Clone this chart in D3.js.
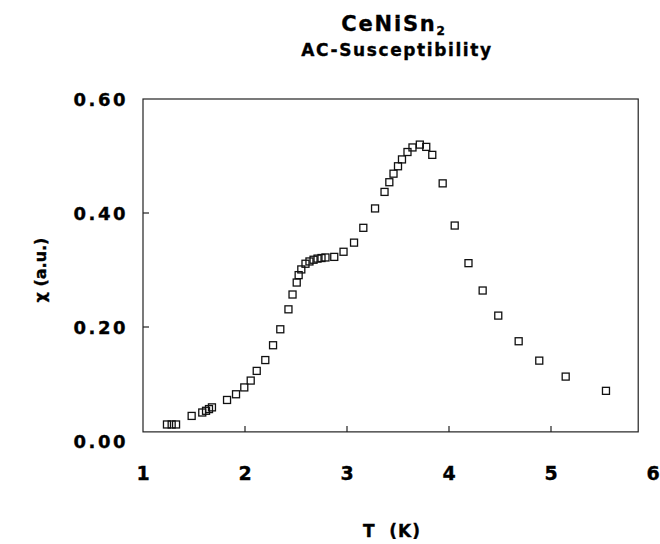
<!DOCTYPE html>
<html>
<head>
<meta charset="utf-8">
<script src="https://cdn.jsdelivr.net/npm/d3@7/dist/d3.min.js"></script>
<style>
  html, body { margin: 0; padding: 0; background: #fff; }
  svg { display: block; }
  text { font-family: "DejaVu Sans", Arial, sans-serif; font-weight: bold; fill: #000; stroke: #000; stroke-width: 0.35px; }
</style>
</head>
<body>
<svg id="chart" width="660" height="544"></svg>
<script>
// Temperature (K)
const temperature = [
  1.235, 1.281, 1.324, 1.477, 1.581, 1.618, 1.647, 1.676, 1.824, 1.912,
  1.993, 2.056, 2.115, 2.199, 2.275, 2.346, 2.426, 2.466, 2.507, 2.526,
  2.552, 2.593, 2.632, 2.672, 2.711, 2.750, 2.789, 2.875, 2.966, 3.069,
  3.160, 3.275, 3.368, 3.415, 3.456, 3.500, 3.539, 3.593, 3.642, 3.714,
  3.777, 3.836, 3.938, 4.056, 4.191, 4.330, 4.483, 4.683, 4.885, 5.144,
  5.539
];
// AC susceptibility (a.u.)
const chi = [
  0.029, 0.029, 0.029, 0.044, 0.050, 0.053, 0.056, 0.059, 0.072, 0.082,
  0.094, 0.106, 0.123, 0.142, 0.168, 0.196, 0.231, 0.257, 0.278, 0.291,
  0.301, 0.311, 0.315, 0.318, 0.320, 0.321, 0.322, 0.323, 0.332, 0.348,
  0.374, 0.408, 0.437, 0.454, 0.469, 0.482, 0.494, 0.507, 0.515, 0.520,
  0.516, 0.502, 0.452, 0.378, 0.312, 0.264, 0.220, 0.175, 0.141, 0.113,
  0.088
];
const xTicks = [1, 2, 3, 4, 5, 6];
const yTicks = [0.00, 0.20, 0.40, 0.60];
const titleMain = "CeNiSn";
const titleSub = "2";
const subtitle = "AC-Susceptibility";
const xLabel = "T  (K)";
const yLabel = "χ (a.u.)";

const svg = d3.select("#chart");
const x = d3.scaleLinear().domain([1, 6]).range([143, 653]);
const y = d3.scaleLinear().domain([0, 0.6]).range([441, 99]);

// plot frame extents (in data units)
const frameX = [1, 5.855];
const frameY = [0.016, 0.6];

svg.append("rect")
  .attr("x", x(frameX[0])).attr("y", y(frameY[1]))
  .attr("width", x(frameX[1]) - x(frameX[0]))
  .attr("height", y(frameY[0]) - y(frameY[1]))
  .attr("fill", "none").attr("stroke", "#222").attr("stroke-width", 1.2);

// inner ticks
svg.append("g").selectAll("line").data(xTicks.filter(d => d > 1 && d < 6)).join("line")
  .attr("x1", d => x(d)).attr("x2", d => x(d))
  .attr("y1", y(frameY[0])).attr("y2", y(frameY[0]) - 6)
  .attr("stroke", "#222").attr("stroke-width", 1.2);
svg.append("g").selectAll("line").data(yTicks.filter(d => d > 0.01 && d < 0.59)).join("line")
  .attr("x1", x(frameX[0])).attr("x2", x(frameX[0]) + 6)
  .attr("y1", d => y(d)).attr("y2", d => y(d))
  .attr("stroke", "#222").attr("stroke-width", 1.2);

// tick labels
svg.append("g").selectAll("text").data(xTicks).join("text")
  .attr("x", d => x(d)).attr("y", 480)
  .attr("text-anchor", "middle").attr("font-size", 19)
  .text(d => d);
svg.append("g").selectAll("text").data(yTicks).join("text")
  .attr("x", 128).attr("y", d => y(d) + 7)
  .attr("text-anchor", "end").attr("font-size", 18)
  .attr("letter-spacing", 2.5)
  .text(d => d.toFixed(2));

// axis titles
svg.append("text")
  .attr("x", 392).attr("y", 537)
  .attr("text-anchor", "middle").attr("font-size", 17)
  .attr("letter-spacing", 1)
  .style("white-space", "pre")
  .text(xLabel);
svg.append("text")
  .attr("transform", "translate(46,270) rotate(-90)")
  .attr("text-anchor", "middle").attr("font-size", 16)
  .style("white-space", "pre")
  .text(yLabel);

// title
const t = svg.append("text").attr("x", 394).attr("y", 31)
  .attr("text-anchor", "middle").attr("font-size", 21).attr("letter-spacing", 1.8);
t.append("tspan").text(titleMain);
t.append("tspan").attr("font-size", 12).attr("dy", 4).text(titleSub);
svg.append("text").attr("x", 397).attr("y", 56)
  .attr("text-anchor", "middle").attr("font-size", 17).attr("letter-spacing", 1.6)
  .text(subtitle);

// data markers: open squares
const s = 7;
svg.append("g").selectAll("rect").data(temperature.map((d, i) => [d, chi[i]])).join("rect")
  .attr("x", d => x(d[0]) - s / 2).attr("y", d => y(d[1]) - s / 2)
  .attr("width", s).attr("height", s)
  .attr("fill", "none").attr("stroke", "#111").attr("stroke-width", 1.3);
</script>
</body>
</html>
